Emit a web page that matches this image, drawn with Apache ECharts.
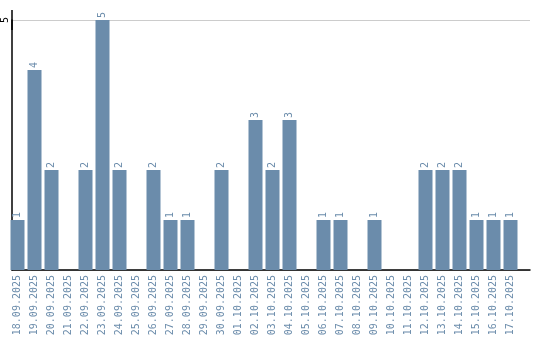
<!DOCTYPE html>
<html><head><meta charset="utf-8">
<script src="https://cdn.jsdelivr.net/npm/echarts@6/dist/echarts.min.js"></script>
<style>html,body{margin:0;padding:0;background:#fff}#c{width:540px;height:340px}</style>
</head><body><div id="c"></div>
<script>
var categories = ["18.09.2025","19.09.2025","20.09.2025","21.09.2025","22.09.2025","23.09.2025","24.09.2025","25.09.2025","26.09.2025","27.09.2025","28.09.2025","29.09.2025","30.09.2025","01.10.2025","02.10.2025","03.10.2025","04.10.2025","05.10.2025","06.10.2025","07.10.2025","08.10.2025","09.10.2025","10.10.2025","11.10.2025","12.10.2025","13.10.2025","14.10.2025","15.10.2025","16.10.2025","17.10.2025"];
var values = [1,4,2,0,2,5,2,0,2,1,1,0,2,0,3,2,3,0,1,1,0,1,0,0,2,2,2,1,1,1];
var yMax = 5;
var chart = echarts.init(document.getElementById('c'));
var font = 'DejaVu Sans Mono';
var blue = '#6b8cab';
chart.setOption({
  animation: false,
  grid: [
    {left: 10, right: 10, top: 20, bottom: 70},
    {left: 9, right: 21, top: 20, bottom: 70}
  ],
  xAxis: [{
    gridIndex: 0, type: 'value', min: 0, max: 1,
    axisLine: {show: true, lineStyle: {color: '#000', width: 1.5}},
    axisTick: {show: false}, axisLabel: {show: false}, splitLine: {show: false}
  }, {
    gridIndex: 1, type: 'category', data: categories,
    axisLine: {show: false},
    axisTick: {show: false},
    axisLabel: {rotate: 90, interval: 0, color: blue, fontFamily: font, fontSize: 10, margin: 5}
  }],
  yAxis: [{
    gridIndex: 0, type: 'value', min: 0, max: yMax, interval: 5,
    axisLine: {show: true, lineStyle: {color: '#000', width: 1.5}, symbol: ['none', 'rect'], symbolSize: [1.5, 20]},
    axisTick: {show: false},
    splitLine: {lineStyle: {color: '#cccccc', width: 1}},
    axisLabel: {rotate: 90, color: '#000', fontFamily: font, fontSize: 10, margin: 2, formatter: function(v){return v === 0 ? '' : String(v);}}
  }, {
    gridIndex: 1, type: 'value', min: 0, max: yMax, show: false
  }],
  series: [{
    type: 'bar', data: values, xAxisIndex: 1, yAxisIndex: 1, barWidth: 14,
    itemStyle: {color: blue},
    label: {
      show: true, position: 'top', rotate: 90, align: 'left', verticalAlign: 'middle', distance: 2,
      color: blue, fontFamily: font, fontSize: 10,
      formatter: function(p){return p.value ? String(p.value) : '';}
    }
  }]
});
</script></body></html>
